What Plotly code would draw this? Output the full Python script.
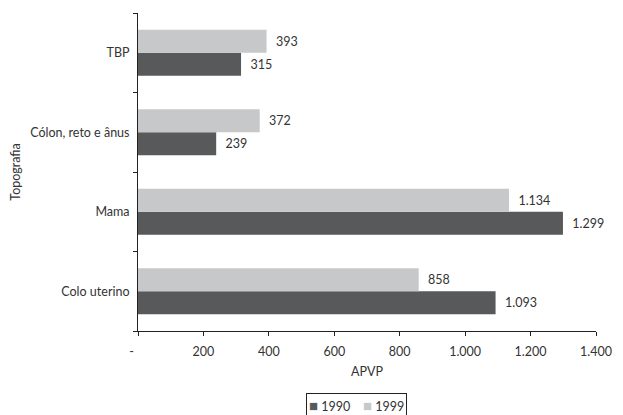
import plotly.graph_objects as go

categories = ["Colo uterino", "Mama", "Cólon, reto e ânus", "TBP"]
values_1990 = [1093, 1299, 239, 315]
values_1999 = [858, 1134, 372, 393]
series_names = ["1990", "1999"]
tick_values = [0, 200, 400, 600, 800, 1000, 1200, 1400]
tick_labels = ["-\u00a0\u00a0\u00a0\u00a0", "200", "400", "600", "800", "1.000", "1.200", "1.400"]

FONT = "Lato"
TXT = "#333333"
C1990 = "#58595b"
C1999 = "#c7c8ca"

fig = go.Figure()
for name, vals, col in [(series_names[0], values_1990, C1990), (series_names[1], values_1999, C1999)]:
    fig.add_trace(go.Bar(
        y=categories, x=vals, name=name, orientation="h",
        marker=dict(color=col, line=dict(width=0)),
        texttemplate="\u00a0\u00a0%{x:,}", textposition="outside",
        textfont=dict(family=FONT, size=12.5, color=TXT), cliponaxis=False,
    ))

legend_text = (
    f"<span style='color:{C1990};font-size:15px'>■</span>\u00a0{series_names[0]}"
    f"\u00a0\u00a0\u00a0\u00a0<span style='color:{C1999};font-size:15px'>■</span>\u00a0{series_names[1]}"
)

fig.update_layout(
    width=623, height=440,
    margin=dict(l=138, r=27, t=13, b=109),
    barmode="group", bargap=0.42, bargroupgap=0,
    separators=",.",
    paper_bgcolor="white", plot_bgcolor="white",
    font=dict(family=FONT, size=12.5, color=TXT),
    showlegend=False,
    annotations=[dict(
        text=legend_text, xref="paper", yref="paper", x=0.478, y=-0.195,
        xanchor="center", yanchor="top", showarrow=False,
        bordercolor="#222222", borderwidth=1, borderpad=2,
        font=dict(family=FONT, size=12.5, color=TXT),
    )],
    xaxis=dict(
        range=[0, 1400], tickvals=tick_values, ticktext=tick_labels,
        showgrid=False, zeroline=False, showline=True, linecolor="#222222", linewidth=1,
        ticks="outside", ticklen=4, tickcolor="#222222", ticklabelstandoff=5,
        title=dict(text="APVP", standoff=9, font=dict(size=12.5)),
        automargin=False, fixedrange=True,
    ),
    yaxis=dict(
        type="category", categoryorder="array", categoryarray=categories,
        showgrid=False, zeroline=False, showline=True, linecolor="#222222", linewidth=1,
        ticks="outside", ticklen=4, tickcolor="#222222", tickson="boundaries",
        ticklabelstandoff=5,
        title=dict(text="Topografia", standoff=6, font=dict(size=12.5)),
        automargin=False, fixedrange=True,
    ),
)

fig.write_html(
    "out.html",
    config={"displayModeBar": False},
    post_script="document.body.style.margin='0';document.body.style.overflow='hidden';",
)
